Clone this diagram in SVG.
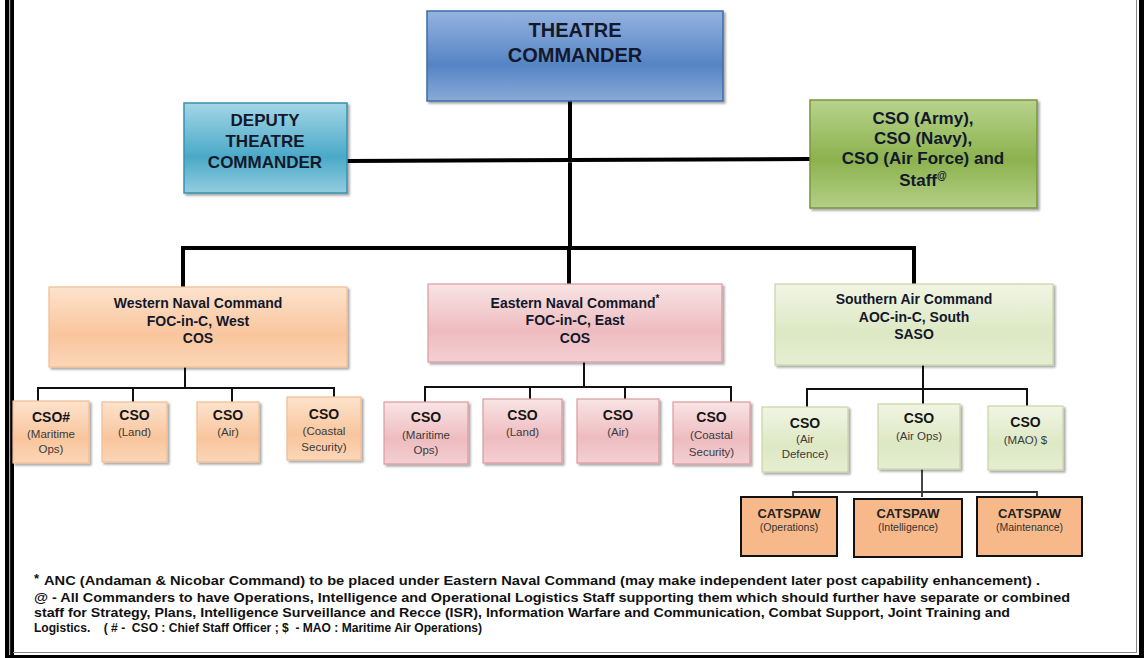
<svg xmlns="http://www.w3.org/2000/svg" width="1147" height="658" viewBox="0 0 1147 658">
<defs>
<linearGradient id="gBlue" x1="0" y1="0" x2="0" y2="1"><stop offset="0" stop-color="#95b3e0"/><stop offset="0.6" stop-color="#5584c4"/><stop offset="1" stop-color="#8aaad8"/></linearGradient>
<linearGradient id="gCyan" x1="0" y1="0" x2="0" y2="1"><stop offset="0" stop-color="#a3d6e6"/><stop offset="0.6" stop-color="#4aa9c8"/><stop offset="1" stop-color="#93cde0"/></linearGradient>
<linearGradient id="gGreen" x1="0" y1="0" x2="0" y2="1"><stop offset="0" stop-color="#b8d38c"/><stop offset="0.55" stop-color="#8cb24e"/><stop offset="1" stop-color="#b4cf86"/></linearGradient>
<linearGradient id="gPeach" x1="0" y1="0" x2="0" y2="1"><stop offset="0" stop-color="#fde3cd"/><stop offset="0.6" stop-color="#f9c59d"/><stop offset="1" stop-color="#fbd6b8"/></linearGradient>
<linearGradient id="gPink" x1="0" y1="0" x2="0" y2="1"><stop offset="0" stop-color="#f9e4e4"/><stop offset="0.6" stop-color="#eebcc0"/><stop offset="1" stop-color="#f3cfd2"/></linearGradient>
<linearGradient id="gLGreen" x1="0" y1="0" x2="0" y2="1"><stop offset="0" stop-color="#f1f5e4"/><stop offset="0.6" stop-color="#dde8c4"/><stop offset="1" stop-color="#e6eed2"/></linearGradient>
<filter id="sh" x="-10%" y="-10%" width="130%" height="140%"><feDropShadow dx="2" dy="2" stdDeviation="1.2" flood-color="#000" flood-opacity="0.35"/></filter>
<style>
text{font-family:"Liberation Sans",Arial,sans-serif;text-anchor:middle;}
.h{font-weight:bold;fill:#13182a;}
.t1{font-size:20px;}
.t2{font-size:17px;}
.t3{font-size:14px;}
.c{font-size:14px;font-weight:bold;fill:#151515;}
.s{font-size:11.5px;fill:#3a3a3a;}
.cat{font-size:13px;font-weight:bold;fill:#222;}
.cs{font-size:10.5px;fill:#333;}
.fn{font-size:13px;font-weight:bold;fill:#111;text-anchor:start;}
.blue{fill:url(#gBlue);stroke:#3d6cab;stroke-width:1.5;filter:url(#sh);}
.cyan{fill:url(#gCyan);stroke:#3792b0;stroke-width:1.5;filter:url(#sh);}
.green{fill:url(#gGreen);stroke:#76963f;stroke-width:1.5;filter:url(#sh);}
.peach{fill:url(#gPeach);stroke:#f2bc92;stroke-width:1.2;filter:url(#sh);}
.pink{fill:url(#gPink);stroke:#d99aa0;stroke-width:1.2;filter:url(#sh);}
.lgreen{fill:url(#gLGreen);stroke:#c6d6a6;stroke-width:1.2;filter:url(#sh);}
.catb{fill:#f8b98a;stroke:#111;stroke-width:2;}
.main{stroke:#000;stroke-width:4;fill:none;}
.sub{stroke:#111;stroke-width:2;fill:none;}
.subt{stroke:#333;stroke-width:1.8;fill:none;}
</style>
</defs>
<rect width="1147" height="658" fill="#fff"/>
<g id="border">
<rect x="5" y="0" width="9" height="658" fill="#000"/>
<rect x="9" y="0" width="1.2" height="656" fill="#aaa"/>
<rect x="1139" y="0" width="5" height="658" fill="#000"/>
<rect x="1136" y="0" width="1" height="653" fill="#888"/>
<rect x="5" y="655" width="1139" height="3" fill="#000"/>
<rect x="13" y="652" width="1124" height="1" fill="#888"/>
</g>
<g id="connectors">
<path class="main" d="M570 101V248M347 161L810 159M183 289V248H914V284M569 248V284"/>
<path class="sub" d="M185 367V388M38 402V388H334V397M133 388V402M232 388V402"/>
<path class="sub" d="M584 362V387M425 402V387H731V402M530 387V399M625 387V399"/>
<path class="sub" d="M923 365V404M807 407V389H1027V406"/>
<path class="subt" d="M922 469V497M793 497V492H1037V497"/>
</g>
<g id="theatre"><rect class="blue" x="427" y="11" width="296" height="90"/>
<text class="h t1" x="575" y="37">THEATRE</text><text class="h t1" x="575" y="62">COMMANDER</text></g>
<g id="deputy"><rect class="cyan" x="184" y="103" width="163" height="90"/>
<text class="h t2" x="265" y="126">DEPUTY</text><text class="h t2" x="265" y="147">THEATRE</text><text class="h t2" x="265" y="168">COMMANDER</text></g>
<g id="cso-staff"><rect class="green" x="810" y="100" width="227" height="108"/>
<text class="h t2" x="923" y="124">CSO (Army),</text><text class="h t2" x="923" y="144">CSO (Navy),</text><text class="h t2" x="923" y="164">CSO (Air Force) and</text><text class="h t2" x="923" y="186">Staff<tspan font-size="10" dy="-7">@</tspan></text></g>
<g id="western"><rect class="peach" x="49" y="287" width="298" height="80"/>
<text class="h t3" x="198" y="308">Western Naval Command</text><text class="h t3" x="198" y="325.5">FOC-in-C, West</text><text class="h t3" x="198" y="343">COS</text></g>
<g id="w1"><rect class="peach" x="13" y="401" width="76" height="62"/><text class="c" x="51" y="422">CSO#</text><text class="s" x="51" y="438">(Maritime</text><text class="s" x="51" y="453">Ops)</text></g>
<g id="w2"><rect class="peach" x="102" y="402" width="65" height="60"/><text class="c" x="134.5" y="420">CSO</text><text class="s" x="134.5" y="436">(Land)</text></g>
<g id="w3"><rect class="peach" x="197" y="402" width="62" height="60"/><text class="c" x="228" y="420">CSO</text><text class="s" x="228" y="436">(Air)</text></g>
<g id="w4"><rect class="peach" x="287" y="397" width="74" height="63"/><text class="c" x="324" y="419">CSO</text><text class="s" x="324" y="435">(Coastal</text><text class="s" x="324" y="451">Security)</text></g>
<g id="eastern"><rect class="pink" x="428" y="284" width="294" height="78"/>
<text class="h t3" x="575" y="308">Eastern Naval Command<tspan font-size="10" dy="-6">*</tspan></text><text class="h t3" x="575" y="325">FOC-in-C, East</text><text class="h t3" x="575" y="343">COS</text></g>
<g id="e1"><rect class="pink" x="384" y="402" width="84" height="62"/><text class="c" x="426" y="422">CSO</text><text class="s" x="426" y="439">(Maritime</text><text class="s" x="426" y="454">Ops)</text></g>
<g id="e2"><rect class="pink" x="483" y="399" width="79" height="64"/><text class="c" x="522.5" y="420">CSO</text><text class="s" x="522.5" y="436">(Land)</text></g>
<g id="e3"><rect class="pink" x="577" y="399" width="82" height="64"/><text class="c" x="618" y="420">CSO</text><text class="s" x="618" y="436">(Air)</text></g>
<g id="e4"><rect class="pink" x="673" y="402" width="77" height="62"/><text class="c" x="711.5" y="422">CSO</text><text class="s" x="711.5" y="439">(Coastal</text><text class="s" x="711.5" y="456">Security)</text></g>
<g id="southern"><rect class="lgreen" x="775" y="284" width="278" height="81"/>
<text class="h t3" x="914" y="304">Southern Air Command</text><text class="h t3" x="914" y="322">AOC-in-C, South</text><text class="h t3" x="914" y="339">SASO</text></g>
<g id="s1"><rect class="lgreen" x="762" y="407" width="86" height="65"/><text class="c" x="805" y="428">CSO</text><text class="s" x="805" y="443">(Air</text><text class="s" x="805" y="458">Defence)</text></g>
<g id="s2"><rect class="lgreen" x="878" y="404" width="82" height="65"/><text class="c" x="919" y="423">CSO</text><text class="s" x="919" y="440">(Air Ops)</text></g>
<g id="s3"><rect class="lgreen" x="988" y="406" width="75" height="64"/><text class="c" x="1025.5" y="427">CSO</text><text class="s" x="1025.5" y="444">(MAO) $</text></g>
<g id="cat1"><rect class="catb" x="741" y="497" width="96" height="59"/><text class="cat" x="789" y="518">CATSPAW</text><text class="cs" x="789" y="531">(Operations)</text></g>
<g id="cat2"><rect class="catb" x="854" y="499" width="108" height="58"/><text class="cat" x="908" y="518">CATSPAW</text><text class="cs" x="908" y="531">(Intelligence)</text></g>
<g id="cat3"><rect class="catb" x="977" y="497" width="105" height="59"/><text class="cat" x="1029.5" y="518">CATSPAW</text><text class="cs" x="1029.5" y="531">(Maintenance)</text></g>
<g id="footnotes">
<text class="fn" x="34" y="583" font-size="16">*</text>
<text class="fn" x="44" y="585" textLength="996" lengthAdjust="spacingAndGlyphs">ANC (Andaman &amp; Nicobar Command) to be placed under Eastern Naval Command (may make independent later post capability enhancement) .</text>
<text class="fn" x="34" y="602" textLength="1036" lengthAdjust="spacingAndGlyphs">@ - All Commanders to have Operations, Intelligence and Operational Logistics Staff supporting them which should further have separate or combined</text>
<text class="fn" x="34" y="617" textLength="976" lengthAdjust="spacingAndGlyphs">staff for Strategy, Plans, Intelligence Surveillance and Recce (ISR), Information Warfare and Communication, Combat Support, Joint Training and</text>
<text class="fn" x="34" y="632" font-size="12.5" xml:space="preserve" textLength="448" lengthAdjust="spacingAndGlyphs">Logistics.    ( # -  CSO : Chief Staff Officer ; $  - MAO : Maritime Air Operations)</text>
</g>
</svg>
